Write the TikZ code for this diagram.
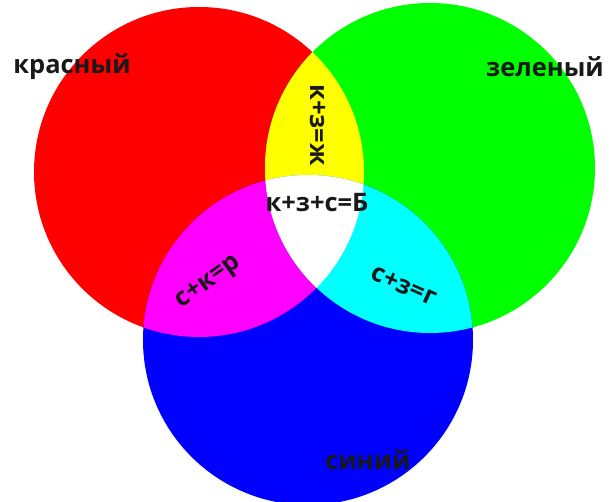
\documentclass[tikz,border=0pt]{standalone}
\usepackage{fontspec}
\setmainfont{Open Sans}
\usetikzlibrary{positioning}
\definecolor{rgbred}{HTML}{FF0000}
\definecolor{rgbgreen}{HTML}{00FF00}
\definecolor{rgbblue}{HTML}{0000FF}
\definecolor{rgbyellow}{HTML}{FFFF00}
\definecolor{rgbmagenta}{HTML}{FF00FF}
\definecolor{rgbcyan}{HTML}{00FFFF}
\newcommand{\redring}{(199,172) circle [radius=165]}
\newcommand{\greenring}{(430,168) circle [radius=165]}
\newcommand{\bluering}{(308,340) circle [radius=165]}
\tikzset{
  lbl/.style={font=\bfseries\fontsize{14.5}{16}\selectfont, text=black!90, inner sep=0pt},
}
\begin{document}
\begin{tikzpicture}[x=0.02cm, y=-0.02cm]
  \useasboundingbox (0,0) rectangle (610,502);

  % primaries
  \fill[rgbred]   \redring;
  \fill[rgbgreen] \greenring;
  \fill[rgbblue]  \bluering;

  % pairwise mixes
  \begin{scope}
    \clip \redring;
    \fill[rgbyellow]  \greenring;
    \fill[rgbmagenta] \bluering;
  \end{scope}
  \begin{scope}
    \clip \greenring;
    \fill[rgbcyan] \bluering;
  \end{scope}
  \begin{scope}
    \clip \redring;
    \clip \greenring;
    \fill[white] \bluering;
  \end{scope}

  % labels
  \node[lbl] (krasnyj) at (72,67) {красный};
  \node[lbl] (zelenyj) at (545,67) {зеленый};
  \node[lbl, rotate=-90] (kz) at (318,125) {к+з=ж};
  \node[lbl] (kzs) at (317,203) {к+з+с=Б};
  \node[lbl, rotate=36] (sk) at (209,283) {с+к=р};
  \node[lbl, rotate=-24] (sz) at (404,286) {с+з=г};
  \node[lbl] (sinij) at (368,460) {синий};

\end{tikzpicture}
\end{document}
